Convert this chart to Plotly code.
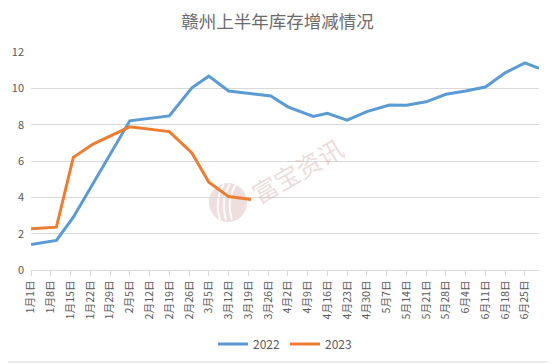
import plotly.graph_objects as go

# ---- data ----
tick_dates = ["2022-01-01", "2022-01-08", "2022-01-15", "2022-01-22", "2022-01-29",
              "2022-02-05", "2022-02-12", "2022-02-19", "2022-02-26", "2022-03-05",
              "2022-03-12", "2022-03-19", "2022-03-26", "2022-04-02", "2022-04-09",
              "2022-04-16", "2022-04-23", "2022-04-30", "2022-05-07", "2022-05-14",
              "2022-05-21", "2022-05-28", "2022-06-04", "2022-06-11", "2022-06-18",
              "2022-06-25"]
tick_labels = ["1月1日", "1月8日", "1月15日", "1月22日", "1月29日", "2月5日", "2月12日",
               "2月19日", "2月26日", "3月5日", "3月12日", "3月19日", "3月26日", "4月2日",
               "4月9日", "4月16日", "4月23日", "4月30日", "5月7日", "5月14日", "5月21日",
               "5月28日", "6月4日", "6月11日", "6月18日", "6月25日"]

dates_2022 = ["2022-01-01", "2022-01-10", "2022-01-16", "2022-02-05", "2022-02-19",
              "2022-02-27", "2022-03-05", "2022-03-12", "2022-03-27", "2022-04-02",
              "2022-04-11", "2022-04-16", "2022-04-23", "2022-04-30", "2022-05-08",
              "2022-05-14", "2022-05-21", "2022-05-28", "2022-06-04", "2022-06-11",
              "2022-06-18", "2022-06-25", "2022-06-30"]
values_2022 = [1.40, 1.63, 2.91, 8.21, 8.48, 10.03, 10.67, 9.85, 9.58, 8.98,
               8.45, 8.63, 8.25, 8.72, 9.08, 9.07, 9.26, 9.67, 9.85, 10.07,
               10.85, 11.40, 11.10]

dates_2023 = ["2022-01-01", "2022-01-10", "2022-01-16", "2022-01-23", "2022-02-05",
              "2022-02-19", "2022-02-27", "2022-03-05", "2022-03-12", "2022-03-20"]
values_2023 = [2.27, 2.36, 6.20, 6.93, 7.88, 7.62, 6.44, 4.83, 4.04, 3.88]

series_names = ["2022", "2023"]
colors = ["#5B9BD5", "#ED7D31"]

title_text = "赣州上半年库存增减情况"
watermark_text = "富宝资讯"

FONT = "Noto Sans CJK SC, Microsoft YaHei, sans-serif"
GRAY = "#595959"

fig = go.Figure()
for name, xs, ys, c in [(series_names[0], dates_2022, values_2022, colors[0]),
                        (series_names[1], dates_2023, values_2023, colors[1])]:
    fig.add_trace(go.Scatter(x=xs, y=ys, name=name, mode="lines",
                             line=dict(color=c, width=3), hoverinfo="x+y"))

# The page body has an 8px margin, so the figure is drawn 8px in from the
# window's top-left corner. Size the figure so that it fills the window.
OFF = 8
W, H = 555 - OFF, 364 - OFF
# plot area in window pixels: x 31..539, y 52..270
PL, PR, PT, PB = 31, 539, 52, 270
L, R, T, B = PL - OFF, (555 - PR), PT - OFF, (364 - PB)
pw, ph = PR - PL, PB - PT

def px_x(x):
    return (x - PL) / pw

def px_y(y):
    return (PB - y) / ph

shapes = [
    # chart border (right & bottom visible in window)
    dict(type="line", xref="paper", yref="paper",
         x0=px_x(553), x1=px_x(553), y0=px_y(362), y1=px_y(OFF),
         line=dict(color="#D9D9D9", width=1), layer="below"),
    dict(type="line", xref="paper", yref="paper",
         x0=px_x(OFF), x1=px_x(553), y0=px_y(362), y1=px_y(362),
         line=dict(color="#D9D9D9", width=1), layer="below"),
    # watermark logo
    dict(type="circle", xref="paper", yref="paper",
         x0=px_x(209), x1=px_x(247), y0=px_y(222), y1=px_y(183),
         line=dict(width=0), fillcolor="rgba(205,160,160,0.35)", layer="between"),
]
for dx in (-8, -2, 4):
    x0 = 228 + dx
    shapes.append(dict(type="path", xref="paper", yref="paper",
                       path=f"M {px_x(x0)},{px_y(220)} Q {px_x(x0 - 6)},{px_y(200)} {px_x(x0 + 4)},{px_y(184)}",
                       line=dict(color="rgba(255,255,255,0.9)", width=2), layer="between"))

fig.update_layout(
    width=W, height=H,
    margin=dict(l=L, r=R, t=T, b=B, autoexpand=False),
    paper_bgcolor="white", plot_bgcolor="white",
    font=dict(family=FONT, color=GRAY, size=11),
    title=dict(text=title_text, x=px_x(277.5), xref="paper", xanchor="center",
               y=1 - (21.5 - OFF) / H, yanchor="middle", yref="container",
               font=dict(size=17.5, color="#6b6b6b", family=FONT)),
    showlegend=True,
    legend=dict(orientation="h", x=0.5, xanchor="center", y=px_y(344), yanchor="middle",
                font=dict(size=12, color=GRAY), itemwidth=30, bgcolor="rgba(0,0,0,0)"),
    shapes=shapes,
    annotations=[dict(text=watermark_text, xref="paper", yref="paper",
                      x=px_x(297), y=px_y(170), showarrow=False, textangle=-30,
                      font=dict(size=25, color="rgba(205,150,150,0.35)", family=FONT))],
)

fig.update_xaxes(type="date", range=["2022-01-01", "2022-06-30"],
                 tickmode="array", tickvals=tick_dates, ticktext=tick_labels,
                 tickangle=-90, ticks="outside", ticklen=5, tickcolor="#D9D9D9",
                 showline=True, linecolor="#D9D9D9", linewidth=1, showgrid=False,
                 tickfont=dict(size=10.7, color=GRAY), zeroline=False, automargin=False)
fig.update_yaxes(range=[0, 12], dtick=2, tick0=0, showgrid=True, gridcolor="#D9D9D9",
                 gridwidth=1, zeroline=False, showline=False, ticks="",
                 ticklabelstandoff=6, tickfont=dict(size=11, color=GRAY), automargin=False)

fig.write_html("out.html")
